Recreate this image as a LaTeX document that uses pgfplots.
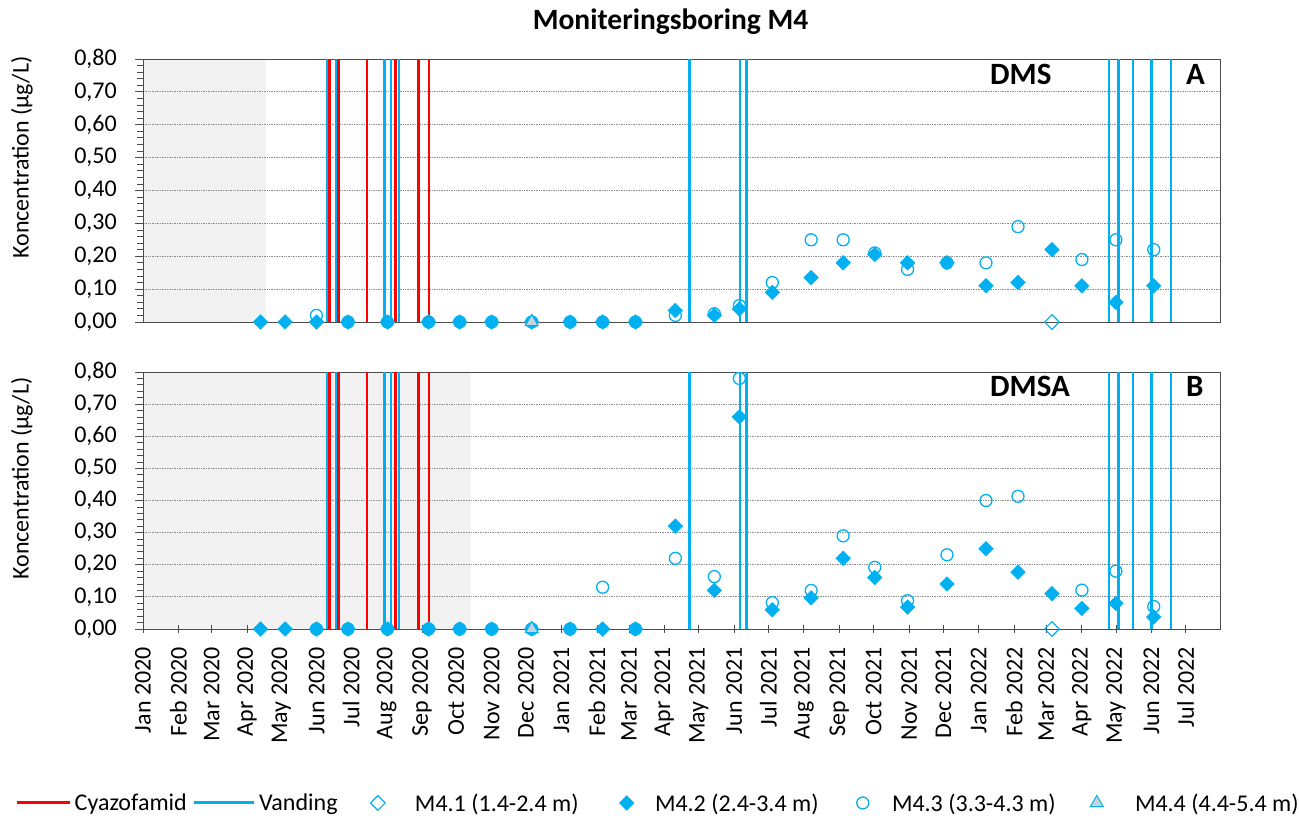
\documentclass[border=0pt]{standalone}
\usepackage{fontspec}
\setmainfont{Carlito}
\usepackage{pgfplots}
\usepackage{pgfplotstable}
\pgfplotsset{compat=1.18}

\definecolor{vblue}{HTML}{00B0F0}
\definecolor{cred}{HTML}{FF0000}
\definecolor{shade}{HTML}{F2F2F2}
\definecolor{trifill}{HTML}{C8D2DC}
\definecolor{gridc}{HTML}{8C8C8C}

% dage efter 1. jan 2020
\pgfplotstableread{
day m42 m43
102.8 0 nan
124.3 0 nan
151.7 0 0.02
179.3 0 0
213.8 0 0
249.8 0 0
277.0 0 0
305.0 0 0
340.0 0 0
373.5 0 0
402.0 0 0
430.7 0 0
465.6 0.035 0.02
499.7 0.02 0.025
521.6 0.04 0.05
550.4 0.09 0.12
584.4 0.135 0.25
612.4 0.18 0.25
640.0 0.205 0.21
668.7 0.18 0.16
703.2 0.18 0.18
737.3 0.11 0.18
765.3 0.12 0.29
795.0 0.22 nan
821.2 0.11 0.19
850.9 0.06 0.25
884.0 0.11 0.22
}\dmsdata

\pgfplotstableread{
day m42 m43
102.8 0 nan
124.3 0 nan
151.7 0 0
179.3 0 0
213.8 0 0
249.8 0 0
277.0 0 0
305.0 0 0
340.0 0 0
373.5 0 0
402.0 0 0.13
430.7 0 0
465.6 0.32 0.22
499.7 0.12 0.163
521.6 0.66 0.78
550.4 0.06 0.082
584.4 0.097 0.12
612.4 0.22 0.29
640.0 0.16 0.192
668.7 0.068 0.088
703.2 0.14 0.231
737.3 0.25 0.40
765.3 0.177 0.413
795.0 0.11 nan
821.2 0.064 0.121
850.9 0.08 0.18
884.0 0.037 0.07
}\dmsadata

\pgfplotsset{
  panel/.style={
    scale only axis, width=1077pt,
    xmin=0, xmax=942, ymin=0, ymax=0.8,
    set layers, clip=true,
    axis line style={black!70, line width=0.9pt},
    ytick={0,0.1,0.2,0.3,0.4,0.5,0.6,0.7,0.8},
    minor y tick num=4,
    ytick pos=left,
    tick align=outside,
    major tick length=8pt, minor tick length=6pt,
    tick style={black!70, line width=0.8pt},
    ymajorgrids,
    major grid style={gridc, line width=0.8pt, dash pattern=on 1pt off 0.7pt},
    yticklabel shift=18pt,
    yticklabel style={anchor=east, inner sep=0pt,
      /pgf/number format/fixed, /pgf/number format/fixed zerofill,
      /pgf/number format/precision=2, /pgf/number format/use comma,
      /pgf/number format/assume math mode=true},
  },
  vlines blue/.style={ycomb, no markers, vblue, line width=2.6pt, forget plot},
  vlines red/.style={ycomb, no markers, cred, line width=2.6pt, forget plot},
  m41/.style={only marks, mark=square, mark size=5.2pt, mark options={rotate=45, draw=vblue, fill=white, line width=1.2pt}, forget plot},
  m42/.style={only marks, mark=square*, mark size=5.2pt, mark options={rotate=45, draw=vblue, fill=vblue}, forget plot},
  m43/.style={only marks, mark=o, mark size=6pt, mark options={draw=vblue, line width=1.3pt}, forget plot},
  m44/.style={only marks, mark=triangle*, mark size=7.5pt, mark options={draw=vblue, fill=trifill, line width=1pt}, forget plot},
  leg cyaz/.style={legend image code/.code={\path (0pt,0pt) (58pt,0pt); \draw[cred, line width=3pt] (0pt,0pt) -- (53pt,0pt);}},
  leg vand/.style={legend image code/.code={\path (0pt,0pt) (72pt,0pt); \draw[vblue, line width=3pt] (7pt,0pt) -- (67pt,0pt);}},
  leg m41/.style={legend image code/.code={\path (0pt,0pt) (77pt,0pt); \draw[only marks, mark=square, mark size=5.2pt, mark options={rotate=45}, vblue, line width=1.2pt] plot coordinates {(40pt,0pt)};}},
  leg m42/.style={legend image code/.code={\path (0pt,0pt) (76pt,0pt); \draw[only marks, mark=square*, mark size=5.2pt, mark options={rotate=45}, vblue] plot coordinates {(48pt,0pt)};}},
  leg m43/.style={legend image code/.code={\path (0pt,0pt) (73pt,0pt); \draw[only marks, mark=o, mark size=6pt, vblue, line width=1.3pt] plot coordinates {(44pt,0pt)};}},
  leg m44/.style={legend image code/.code={\path (0pt,0pt) (79pt,0pt); \draw[only marks, mark=triangle*, mark size=7.5pt, mark options={draw=vblue, fill=trifill}, line width=1pt] plot coordinates {(41pt,0pt)};}},
}

\begin{document}
\begin{tikzpicture}[font=\fontsize{24}{29}\selectfont]

% A: DMS
\begin{axis}[panel, at={(143pt,494pt)}, anchor=south west, height=263pt,
  xtick=\empty]
\addplot[fill=shade, draw=none, on layer=axis background, forget plot] coordinates {(0,0.8) (108,0.8)} \closedcycle;
\addplot[vlines blue] coordinates {(161,0.8) (169,0.8) (211,0.8) (217,0.8) (224,0.8) (478,0.8) (522,0.8) (528,0.8) (845,0.8) (853,0.8) (866,0.8) (882,0.8) (899,0.8)};
\addplot[vlines red] coordinates {(163,0.8) (171,0.8) (196,0.8) (221,0.8) (241,0.8) (250,0.8)};
\addplot[m41] coordinates {(795,0)};
\addplot[m42] table[x=day, y=m42] {\dmsdata};
\addplot[m43] table[x=day, y=m43] {\dmsdata};
\addplot[m44] coordinates {(340,0)};
\end{axis}

% B: DMSA
\begin{axis}[panel, at={(143pt,187pt)}, anchor=south west, height=257pt,
  xtick={0,31,60,91,121,152,182,213,244,274,305,335,366,397,425,456,486,517,547,578,609,639,670,700,731,762,790,821,851,882,912},
  xticklabels={Jan 2020,Feb 2020,Mar 2020,Apr 2020,May 2020,Jun 2020,Jul 2020,Aug 2020,Sep 2020,Oct 2020,Nov 2020,Dec 2020,Jan 2021,Feb 2021,Mar 2021,Apr 2021,May 2021,Jun 2021,Jul 2021,Aug 2021,Sep 2021,Oct 2021,Nov 2021,Dec 2021,Jan 2022,Feb 2022,Mar 2022,Apr 2022,May 2022,Jun 2022,Jul 2022},
  xtick pos=bottom,
  major x tick style={yshift=4pt},
  xticklabel shift=10pt,
  xticklabel style={rotate=90, anchor=east, inner sep=0pt},
  legend columns=6,
  legend cell align=left,
  legend style={at={(axis description cs:-0.1188,-0.677)}, anchor=west, draw=none, fill=none,
    inner sep=0pt, outer sep=0pt, column sep=0pt,
    nodes={inner sep=0pt, font=\fontsize{24}{29}\selectfont}},
]
\addplot[fill=shade, draw=none, on layer=axis background, forget plot] coordinates {(0,0.8) (287,0.8)} \closedcycle;
\addplot[vlines blue] coordinates {(161,0.8) (169,0.8) (211,0.8) (217,0.8) (224,0.8) (478,0.8) (522,0.8) (528,0.8) (845,0.8) (853,0.8) (866,0.8) (882,0.8) (899,0.8)};
\addplot[vlines red] coordinates {(163,0.8) (171,0.8) (196,0.8) (221,0.8) (241,0.8) (250,0.8)};
\addplot[m41] coordinates {(795,0)};
\addplot[m42] table[x=day, y=m42] {\dmsadata};
\addplot[m43] table[x=day, y=m43] {\dmsadata};
\addplot[m44] coordinates {(340,0)};

\addlegendimage{leg cyaz}\addlegendentry{Cyazofamid}
\addlegendimage{leg vand}\addlegendentry{Vanding}
\addlegendimage{leg m41}\addlegendentry{M4.1 (1.4-2.4 m)}
\addlegendimage{leg m42}\addlegendentry{M4.2 (2.4-3.4 m)}
\addlegendimage{leg m43}\addlegendentry{M4.3 (3.3-4.3 m)}
\addlegendimage{leg m44}\addlegendentry{M4.4 (4.4-5.4 m)}
\end{axis}

% titel og etiketter
\node[anchor=base, font=\fontsize{29.5}{34}\selectfont\bfseries] at (670.5pt,786.7pt) {Moniteringsboring M4};
\node[rotate=90] at (22pt,658.5pt) {Koncentration (µg/L)};
\node[rotate=90] at (22pt,337.5pt) {Koncentration (µg/L)};
\node[anchor=base west, inner sep=0pt, font=\fontsize{31}{35}\selectfont\bfseries] at (990pt,731pt) {DMS};
\node[anchor=base west, inner sep=0pt, font=\fontsize{31}{35}\selectfont\bfseries] at (1186pt,731pt) {A};
\node[anchor=base west, inner sep=0pt, font=\fontsize{31}{35}\selectfont\bfseries] at (990pt,419.3pt) {DMSA};
\node[anchor=base west, inner sep=0pt, font=\fontsize{31}{35}\selectfont\bfseries] at (1186pt,419.3pt) {B};

\pgfresetboundingbox
\path[use as bounding box] (0pt,0pt) rectangle (1299pt,816pt);
\end{tikzpicture}
\end{document}
